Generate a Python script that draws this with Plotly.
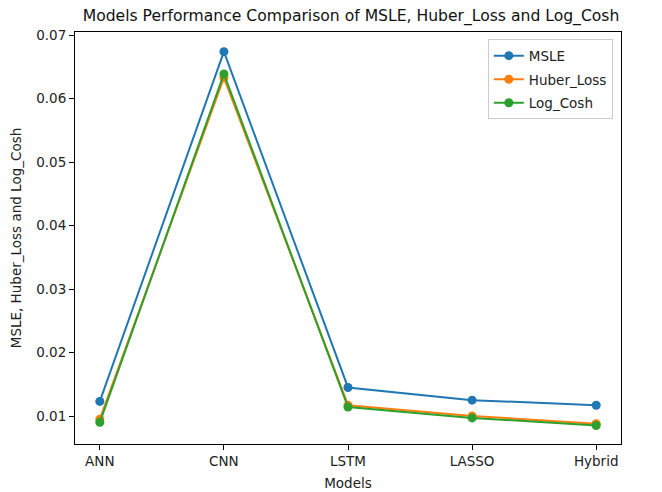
import plotly.graph_objects as go

models = ["ANN", "CNN", "LSTM", "LASSO", "Hybrid"]
msle = [0.0123, 0.0674, 0.0145, 0.0125, 0.0117]
huber_loss = [0.0095, 0.0633, 0.0117, 0.0100, 0.0088]
log_cosh = [0.0090, 0.0639, 0.0114, 0.0097, 0.0085]
y_ticks = [0.01, 0.02, 0.03, 0.04, 0.05, 0.06, 0.07]

series = [("MSLE", msle, "#1f77b4"), ("Huber_Loss", huber_loss, "#ff7f0e"), ("Log_Cosh", log_cosh, "#2ca02c")]

fig = go.Figure()
for name, vals, col in series:
    fig.add_trace(go.Scatter(x=models, y=vals, name=name, mode="lines+markers",
                             line=dict(color=col, width=2), marker=dict(color=col, size=9),
                             legendgroup=name))

font = "DejaVu Sans"
# page body has an 8px margin, so the figure is sized and offset to compensate
fig.update_layout(
    width=654, height=484,
    margin=dict(l=67, r=41, t=24, b=48, autoexpand=False),
    paper_bgcolor="white", plot_bgcolor="white",
    font=dict(family=font, size=13.5, color="#222222"),
    title=dict(text="Models Performance Comparison of MSLE, Huber_Loss and Log_Cosh",
               x=0.5245, xanchor="center", y=1 - 2 / 484, yanchor="top", yref="container",
               font=dict(size=15.6, color="#111111")),
    legend=dict(x=0.985, y=0.982, xanchor="right", yanchor="top", bgcolor="white",
                bordercolor="#cccccc", borderwidth=1, font=dict(size=13.5),
                traceorder="grouped", tracegroupgap=3, itemwidth=30),
    showlegend=True,
)
fig.update_xaxes(range=[-0.2, 4.2], showline=True, linecolor="black", linewidth=1, mirror=True,
                 ticks="outside", ticklen=5, tickcolor="black", showgrid=False, automargin=False,
                 title=dict(text="Models", standoff=10, font=dict(size=13.5)), zeroline=False)
fig.update_yaxes(range=[0.00559, 0.0705], tickvals=y_ticks, tickformat=".2f", showline=True,
                 linecolor="black", linewidth=1, mirror=True, ticks="outside", ticklen=5,
                 tickcolor="black", showgrid=False, zeroline=False, automargin=False,
                 title=dict(text="MSLE, Huber_Loss and Log_Cosh", standoff=18, font=dict(size=13.5)))
fig.write_html("out.html")
